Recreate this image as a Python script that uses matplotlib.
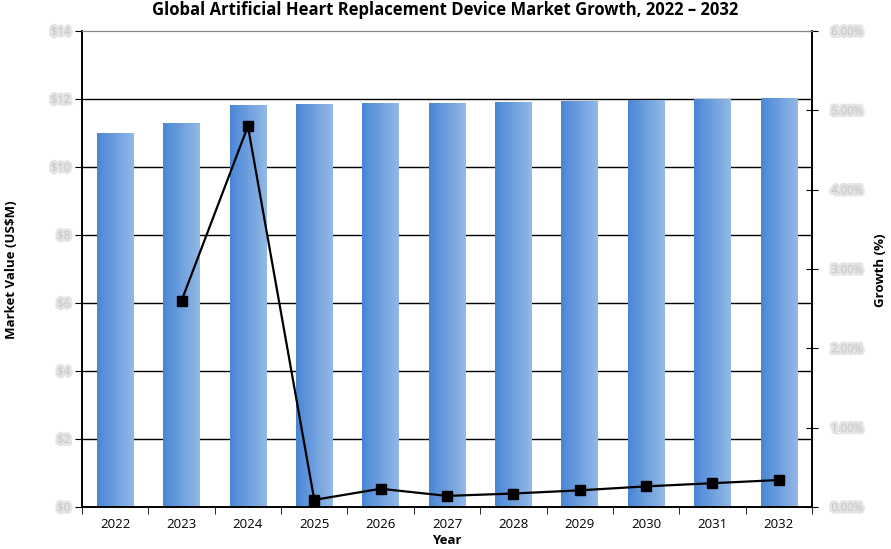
import numpy as np
import matplotlib
matplotlib.use("Agg")
import matplotlib.pyplot as plt
import matplotlib.patheffects as pe
from matplotlib.colors import LinearSegmentedColormap

years = ["2022", "2023", "2024", "2025", "2026", "2027", "2028", "2029", "2030", "2031", "2032"]
market_value = [11.00, 11.29, 11.82, 11.83, 11.86, 11.88, 11.90, 11.92, 11.95, 11.98, 12.01]
growth_years = ["2023", "2024", "2025", "2026", "2027", "2028", "2029", "2030", "2031", "2032"]
growth_pct = [2.6, 4.8, 0.09, 0.23, 0.14, 0.17, 0.21, 0.26, 0.30, 0.34]
left_ticks = [0, 2, 4, 6, 8, 10, 12, 14]
left_labels = ["$0", "$2", "$4", "$6", "$8", "$10", "$12", "$14"]
right_ticks = [0, 1, 2, 3, 4, 5, 6]
right_labels = ["0.00%", "1.00%", "2.00%", "3.00%", "4.00%", "5.00%", "6.00%"]

plt.rcParams['font.family'] = ['Open Sans', 'DejaVu Sans']

fig = plt.figure(figsize=(8.91, 5.49), dpi=100)
ax = fig.add_axes([82/891, 1-507/549, (812-82)/891, (507-31)/549])
ax2 = ax.twinx()

x = np.arange(len(years))

cmap = LinearSegmentedColormap.from_list("bar", ["#4a86d6", "#93b9e6"])
grad = np.linspace(0, 1, 256).reshape(1, -1)
bw = 0.55
for xi, v in zip(x, market_value):
    ax.imshow(grad, cmap=cmap, extent=(xi - bw/2, xi + bw/2, 0, v),
              aspect='auto', zorder=2, interpolation='bilinear')
ax.set_xlim(-0.5, len(years) - 0.5)
ax.set_ylim(0, 14)

# gridlines
for t in left_ticks[1:-1]:
    ax.axhline(t, color='black', lw=1.0, zorder=1)

ax.set_yticks(left_ticks)
ax.set_yticklabels(left_labels)
ax.tick_params(axis='y', direction='out', length=5, color='black',
               labelcolor='#c4c4c4', labelsize=8)
for lab in ax.get_yticklabels():
    lab.set_path_effects([pe.withStroke(linewidth=4, foreground='#e4e4e4')])

ax.set_xticks(x)
ax.set_xticklabels(years, fontsize=9.5)
ax.set_xticks(np.arange(-0.5, len(years)), minor=True)
ax.tick_params(axis='x', which='major', length=0, pad=8)
ax.tick_params(axis='x', which='minor', length=5, direction='out')

for s in ['left', 'right', 'bottom']:
    ax.spines[s].set_color('black')
    ax.spines[s].set_linewidth(1.2)
ax.spines['top'].set_color('#888888')

gx = [years.index(y) for y in growth_years]
ax2.plot(gx, growth_pct, color='black', lw=1.6, marker='s', markersize=7,
         markerfacecolor='black', zorder=5)
ax2.set_ylim(0, 6)
ax2.set_yticks(right_ticks)
ax2.set_yticklabels(right_labels)
ax2.tick_params(axis='y', direction='inout', length=8, color='black',
                labelcolor='#c4c4c4', labelsize=8, pad=10)
for lab in ax2.get_yticklabels():
    lab.set_path_effects([pe.withStroke(linewidth=4, foreground='#e4e4e4')])
for s in ['left', 'right', 'bottom']:
    ax2.spines[s].set_color('black')
    ax2.spines[s].set_linewidth(1.2)
ax2.spines['top'].set_color('#888888')

fig.text(445/891, 1-10/549, "Global Artificial Heart Replacement Device Market Growth, 2022 \u2013 2032",
         ha='center', va='center', fontsize=12, fontweight='bold')
fig.text(12/891, 1-270/549, "Market Value (US$M)", rotation=90, ha='center', va='center',
         fontsize=9.5, fontweight='bold')
fig.text(880/891, 1-270/549, "Growth (%)", rotation=90, ha='center', va='center',
         fontsize=9.5, fontweight='bold')
fig.text(447/891, 1-541/549, "Year", ha='center', va='center',
         fontsize=9.5, fontweight='bold')

fig.savefig("out.png", dpi=100)
